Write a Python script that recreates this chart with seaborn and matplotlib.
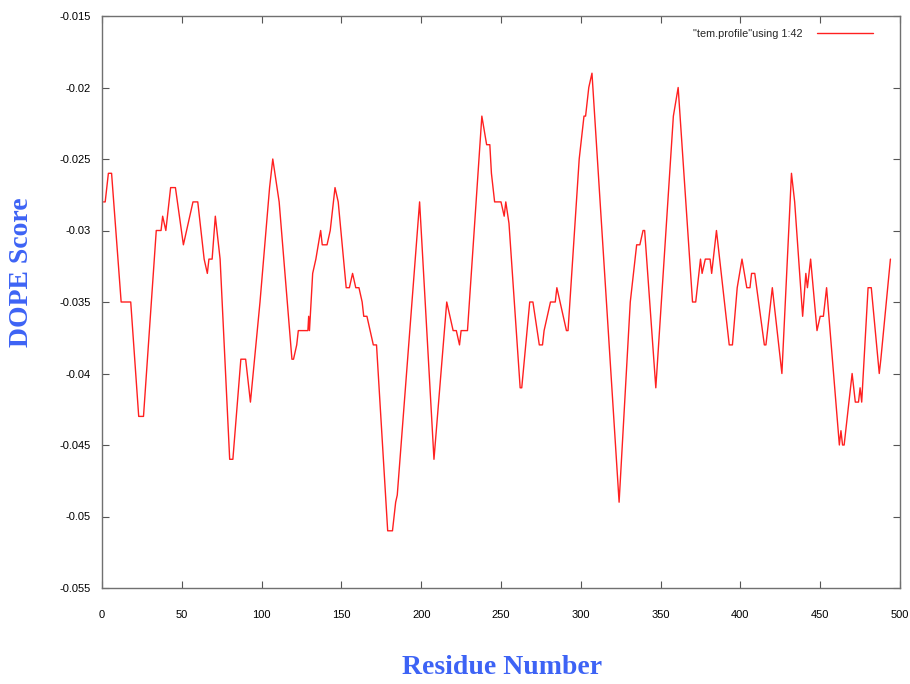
import numpy as np
import pandas as pd
import matplotlib
matplotlib.use('Agg')
import matplotlib.pyplot as plt
import seaborn as sns

# DOPE profile, vertices
residue = [1, 2, 4, 6, 12, 18, 23, 26, 34, 37, 38, 40, 43, 46, 51, 55, 57, 60,
           64, 66, 67, 69, 71, 74, 80, 82, 87, 90, 93, 99, 105, 107, 111, 119,
           120, 122, 123, 129, 129.5, 130, 132, 134, 137, 138, 141, 143, 146,
           148, 153, 155, 157, 159, 161, 163, 164, 166, 168, 170, 172, 179, 182,
           184, 185, 199, 208, 216, 218, 220, 222, 224, 225, 229, 238, 241, 243,
           244, 246, 250, 252, 253, 255, 262, 263, 268, 270, 274, 276, 277, 281,
           284, 285, 287, 289, 291, 292, 299, 302, 303, 305, 307, 324, 331, 335,
           337, 339, 340, 347, 358, 361, 370, 372, 375, 376, 378, 381, 382, 385,
           393, 395, 398, 401, 404, 406, 407, 409, 415, 416, 420, 426, 432, 434,
           439, 441, 442, 444, 448, 450, 452, 454, 462, 463, 464, 465, 470, 472,
           474, 475, 476, 480, 482, 487, 488, 494]
score = [-0.028, -0.028, -0.026, -0.026, -0.035, -0.035, -0.043, -0.043, -0.030,
         -0.030, -0.029, -0.030, -0.027, -0.027, -0.031, -0.029, -0.028, -0.028,
         -0.032, -0.033, -0.032, -0.032, -0.029, -0.032, -0.046, -0.046, -0.039,
         -0.039, -0.042, -0.035, -0.027, -0.025, -0.028, -0.039, -0.039, -0.038,
         -0.037, -0.037, -0.036, -0.037, -0.033, -0.032, -0.030, -0.031, -0.031,
         -0.030, -0.027, -0.028, -0.034, -0.034, -0.033, -0.034, -0.034, -0.035,
         -0.036, -0.036, -0.037, -0.038, -0.038, -0.051, -0.051, -0.049, -0.0485,
         -0.028, -0.046, -0.035, -0.036, -0.037, -0.037, -0.038, -0.037, -0.037,
         -0.022, -0.024, -0.024, -0.026, -0.028, -0.028, -0.029, -0.028, -0.0295,
         -0.041, -0.041, -0.035, -0.035, -0.038, -0.038, -0.037, -0.035, -0.035,
         -0.034, -0.035, -0.036, -0.037, -0.037, -0.025, -0.022, -0.022, -0.020,
         -0.019, -0.049, -0.035, -0.031, -0.031, -0.030, -0.030, -0.041, -0.022,
         -0.020, -0.035, -0.035, -0.032, -0.033, -0.032, -0.032, -0.033, -0.030,
         -0.038, -0.038, -0.034, -0.032, -0.034, -0.034, -0.033, -0.033, -0.038,
         -0.038, -0.034, -0.040, -0.026, -0.028, -0.036, -0.033, -0.034, -0.032,
         -0.037, -0.036, -0.036, -0.034, -0.045, -0.044, -0.045, -0.045, -0.040,
         -0.042, -0.042, -0.041, -0.042, -0.034, -0.034, -0.040, -0.039, -0.032]

x_ticks = [0, 50, 100, 150, 200, 250, 300, 350, 400, 450, 500]
y_ticks = [-0.055, -0.05, -0.045, -0.04, -0.035, -0.03, -0.025, -0.02, -0.015]
legend_label = '"tem.profile"using 1:42'

df = pd.DataFrame({'residue': residue, 'score': score})

sns.set_style('white')
plt.rcParams['font.family'] = ['Liberation Sans', 'DejaVu Sans']

fig = plt.figure(figsize=(9.1, 6.84), dpi=100)
ax = fig.add_axes([102 / 910, 96 / 684, 798 / 910, 572 / 684])

sns.lineplot(data=df, x='residue', y='score', ax=ax, color='#ff2020',
             linewidth=1.0, label=legend_label, sort=False, estimator=None)

ax.set_xlim(0, 500)
ax.set_ylim(-0.055, -0.015)
ax.set_xticks(x_ticks)
ax.set_xticklabels([str(t) for t in x_ticks])
ax.set_yticks(y_ticks)
ax.set_yticklabels([('%g' % t) for t in y_ticks])
ax.tick_params(direction='in', length=5, width=0.8, color='#555555',
               labelsize=8, labelcolor='black', top=True, right=True,
               bottom=True, left=True)
ax.tick_params(axis='x', pad=16)
ax.tick_params(axis='y', pad=8)
for s in ax.spines.values():
    s.set_color('#707070')
    s.set_linewidth(1.0)
ax.set_xlabel('')
ax.set_ylabel('')

# legend: text then short red line sample, like gnuplot's key
leg = ax.legend(loc='upper right', frameon=False, fontsize=7.8,
                markerfirst=False, handlelength=5.2, handletextpad=1.3,
                borderaxespad=0, borderpad=0,
                bbox_to_anchor=((873 - 102) / 798, (588 - 29) / 572))

label_font = dict(family=['Liberation Serif', 'DejaVu Serif'], weight='bold',
                  size=20, color='#3d63f5')
fig.text(502 / 910, 1 - 668 / 684, 'Residue Number', ha='center', va='center',
         **label_font)
fig.text(22 / 910, 1 - 272 / 684, 'DOPE Score', ha='center', va='center',
         rotation=90, **label_font)

fig.savefig('out.png', dpi=100)
